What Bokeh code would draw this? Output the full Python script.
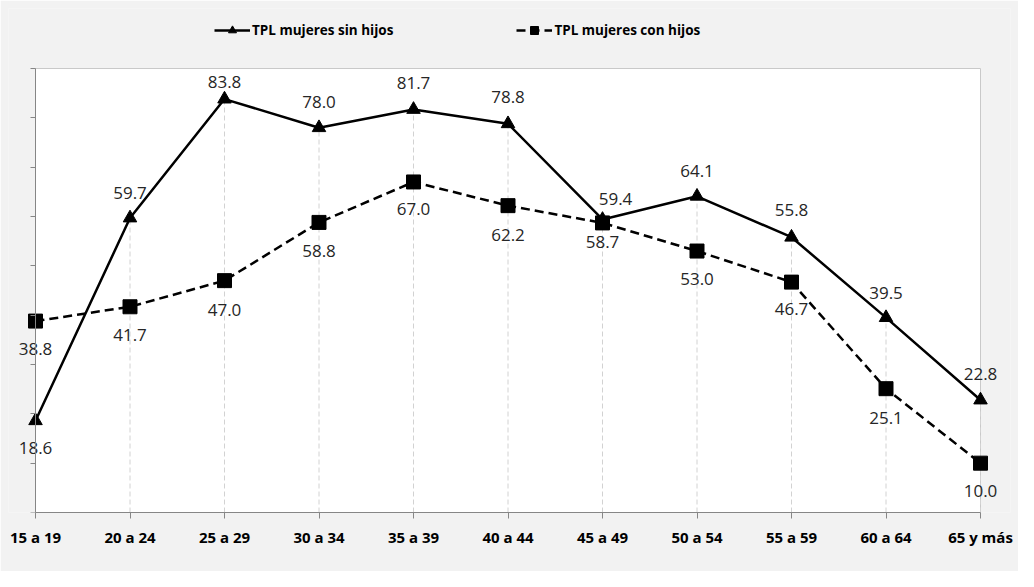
from bokeh.plotting import figure
from bokeh.models import Range1d, FixedTicker, Legend, LegendItem, ColumnDataSource
from bokeh.core.properties import value
from bokeh.embed import file_html
from bokeh.resources import INLINE

# ---------------- data ----------------
categories = ["15 a 19", "20 a 24", "25 a 29", "30 a 34", "35 a 39", "40 a 44",
              "45 a 49", "50 a 54", "55 a 59", "60 a 64", "65 y más"]
sin_hijos = [18.6, 59.7, 83.8, 78.0, 81.7, 78.8, 59.4, 64.1, 55.8, 39.5, 22.8]
con_hijos = [38.8, 41.7, 47.0, 58.8, 67.0, 62.2, 58.7, 53.0, 46.7, 25.1, 10.0]
series_names = ["TPL mujeres sin hijos", "TPL mujeres con hijos"]
y_ticks = [0, 10, 20, 30, 40, 50, 60, 70, 80, 90]

# ---------------- label placement (screen px) ----------------
lab1_dy = [27, -25, -17, -26, -26, -27, -20, -25, -27, -25, -26]
lab1_dx = [0, 0, 0, 0, 0, 0, 13, 0, 0, 0, 0]
lab2_dy = [28, 28, 29, 29, 27, 29, 19, 28, 27, 29, 28]
lab2_dx = [0] * len(categories)

# ---------------- geometry ----------------
W, H = 1018, 571
frame_left, frame_right, frame_top, frame_bottom = 8, 1010, 8, 512   # figure px
plot_left, plot_right, plot_top = 35, 980, 68                         # white area px
n = len(categories)
x_px = (plot_right - plot_left) / (n - 1)
y_max = y_ticks[-1]
y_px = (frame_bottom - plot_top) / y_max
x0 = -(plot_left - frame_left) / x_px
x1 = (n - 1) + (frame_right - plot_right) / x_px
y1 = (frame_bottom - frame_top) / y_px

xs = list(range(n))
FONT = "Open Sans"

p = figure(width=W, height=H, output_backend="svg", toolbar_location=None,
           x_range=Range1d(x0, x1), y_range=Range1d(0, y1),
           min_border_left=frame_left, min_border_right=W - frame_right,
           min_border_top=frame_top, min_border_bottom=H - frame_bottom,
           background_fill_color="#f2f2f2", border_fill_color="#f2f2f2",
           outline_line_color=None)
p.grid.visible = False

# white plot area
p.quad(left=[0], right=[n - 1], bottom=[0], top=[y_max],
       fill_color="white", line_color="#c9c9c9", line_width=1)

# drop lines
tops = [max(a, b) for a, b in zip(sin_hijos, con_hijos)]
p.segment(x0=xs, y0=[0] * n, x1=xs, y1=tops, line_color="#d2d2d2",
          line_width=1, line_dash="5 3")

# series
l1 = p.line(xs, sin_hijos, line_color="black", line_width=2.5)
m1 = p.scatter(xs, sin_hijos, marker="triangle", size=13.5, fill_color="black",
               line_color="black")
l2 = p.line(xs, con_hijos, line_color="black", line_width=2.5, line_dash="9 5")
m2 = p.scatter(xs, con_hijos, marker="square", size=14, fill_color="black",
               line_color="black")

# data labels
src1 = ColumnDataSource(dict(x=xs, y=sin_hijos, t=[f"{v:.1f}" for v in sin_hijos],
                             dx=lab1_dx, dy=lab1_dy))
src2 = ColumnDataSource(dict(x=xs, y=con_hijos, t=[f"{v:.1f}" for v in con_hijos],
                             dx=lab2_dx, dy=lab2_dy))
for src in (src1, src2):
    p.text(x="x", y="y", text="t", x_offset="dx", y_offset="dy", source=src,
           text_font=value(FONT), text_font_size="17px", text_color="#262626",
           text_align="center", text_baseline="middle")

# axes
p.yaxis.fixed_location = 0
p.yaxis.bounds = (0, y_max)
p.yaxis.ticker = FixedTicker(ticks=y_ticks)
p.yaxis.major_label_overrides = {t: "" for t in y_ticks}
p.yaxis.major_label_standoff = 0
p.yaxis.major_tick_out = 5
p.yaxis.major_tick_in = 0
p.yaxis.minor_tick_line_color = None
p.yaxis.axis_line_color = "#868686"
p.yaxis.major_tick_line_color = "#868686"

p.xaxis.bounds = (0, n - 1)
p.xaxis.ticker = FixedTicker(ticks=xs)
p.xaxis.major_label_overrides = {i: c for i, c in enumerate(categories)}
p.xaxis.major_tick_out = 6
p.xaxis.major_tick_in = 0
p.xaxis.minor_tick_line_color = None
p.xaxis.axis_line_color = "#868686"
p.xaxis.major_tick_line_color = "#868686"
p.xaxis.major_label_standoff = 8
p.xaxis.major_label_text_font = FONT
p.xaxis.major_label_text_font_style = "bold"
p.xaxis.major_label_text_font_size = "15px"
p.xaxis.major_label_text_color = "black"

# legend
legend = Legend(items=[LegendItem(label=series_names[0], renderers=[l1, m1]),
                       LegendItem(label=series_names[1], renderers=[l2, m2])],
                location=(206, 472), orientation="horizontal", spacing=123,
                padding=0, margin=0, label_standoff=2, glyph_width=36,
                glyph_height=20, label_height=20,
                label_text_font=FONT, label_text_font_style="bold",
                label_text_font_size="13.5px", label_text_color="black",
                border_line_color=None, background_fill_alpha=0)
p.add_layout(legend, "center")

open("out.html", "w").write(file_html(p, INLINE))
